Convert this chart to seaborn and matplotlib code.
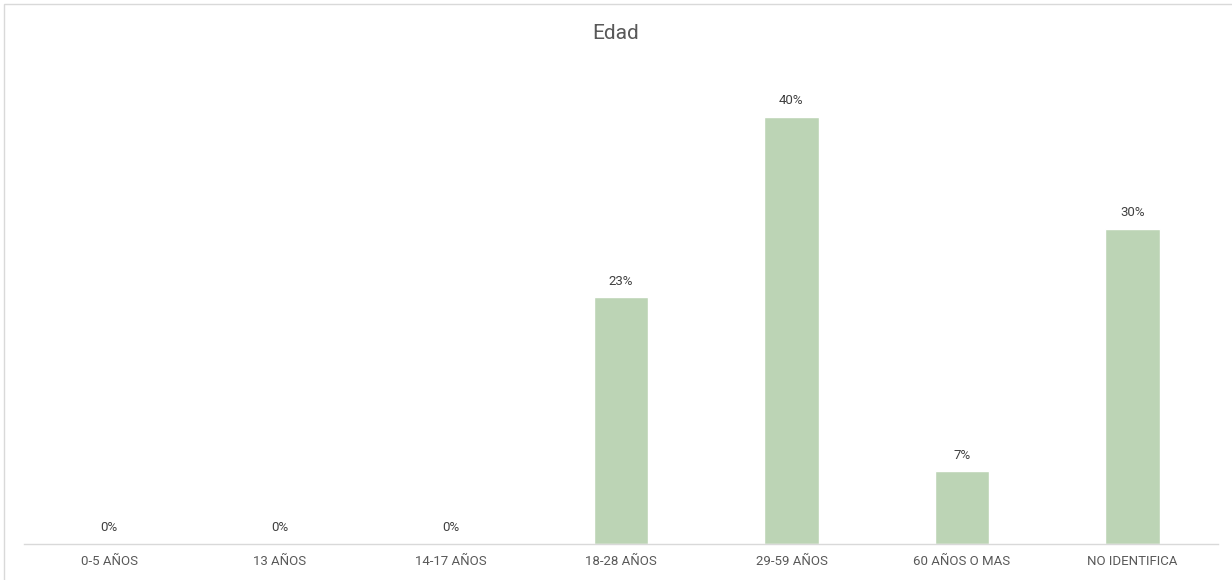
import matplotlib
matplotlib.use("Agg")
import matplotlib.pyplot as plt
import seaborn as sns
import pandas as pd
from matplotlib.patches import Rectangle

categorias = ["0-5 AÑOS", "13 AÑOS", "14-17 AÑOS", "18-28 AÑOS",
              "29-59 AÑOS", "60 AÑOS O MAS", "NO IDENTIFICA"]
porcentajes = [0, 0, 0, 23.1, 40, 6.8, 29.5]

df = pd.DataFrame({"Edad": categorias, "Porcentaje": porcentajes})

sns.set_style("white")
plt.rcParams['font.family'] = ['Roboto', 'DejaVu Sans']
gris = "#595959"

fig = plt.figure(figsize=(12.32, 5.8), dpi=100)
ax = fig.add_axes([0.0195, 0.062, 0.969, 0.829])

sns.barplot(data=df, x="Edad", y="Porcentaje", color="#BCD4B5",
            width=0.32, saturation=1, ax=ax)

for i, v in enumerate(porcentajes):
    ax.text(i, v + 0.9, f"{v:.0f}%", ha="center", va="bottom",
            fontsize=9.5, color="#404040")

ax.set_xlim(-0.5, 6.5)
ax.set_ylim(0, 45)
ax.set_xlabel("")
ax.set_ylabel("")
ax.set_yticks([])
ax.tick_params(axis="x", length=0, labelsize=9.5, labelcolor=gris, pad=8)
for s in ["top", "right", "left"]:
    ax.spines[s].set_visible(False)
ax.spines["bottom"].set_color("#D9D9D9")
ax.spines["bottom"].set_linewidth(1)

fig.text(0.5, 0.942, "Edad", ha="center", va="center", fontsize=15, color=gris)

# marco del gráfico (solo visible arriba e izquierda)
fig.patches.append(Rectangle((0.0035, -0.02), 1.1, 1.013, transform=fig.transFigure,
                             fill=False, edgecolor="#D9D9D9", linewidth=1))

fig.savefig("out.png", dpi=100)
